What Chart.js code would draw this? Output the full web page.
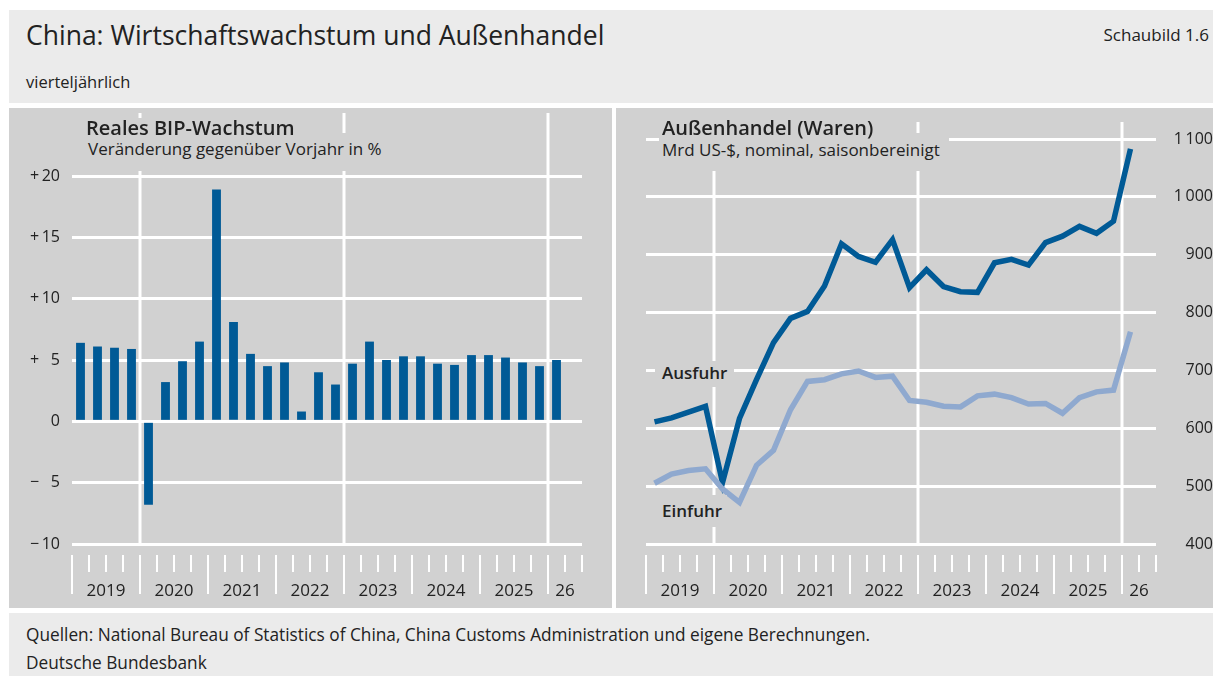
<!DOCTYPE html>
<html lang="de">
<head>
<meta charset="utf-8">
<title>China: Wirtschaftswachstum und Außenhandel</title>
<script src="https://cdn.jsdelivr.net/npm/chart.js@4.4.1/dist/chart.umd.min.js"></script>
<style>
  html, body { margin: 0; padding: 0; background: #fff; }
  body { width: 1213px; height: 676px; position: relative; overflow: hidden;
         font-family: "Open Sans", "Noto Sans", sans-serif; color: #222; }
  .box { position: absolute; }
  .head { left: 9px; top: 10px; width: 1204px; height: 93px; background: #ebebeb; }
  .foot { left: 9px; top: 613px; width: 1204px; height: 63px; background: #ebebeb; }
  .panel { position: absolute; top: 108px; height: 500px; background: #d1d1d1; }
  .txt { position: absolute; white-space: nowrap; line-height: 1; }
  .lbl { position: absolute; white-space: nowrap; line-height: 1; background: #d1d1d1; }
  canvas { position: absolute; left: 0; top: 0; }
</style>
</head>
<body>
<div class="box head"></div>
<div class="box foot"></div>

<div class="panel" id="pl" style="left:9px;width:603px;">
  <canvas id="gdp" width="603" height="500"></canvas>
</div>
<div class="panel" id="pr" style="left:616px;width:597px;">
  <canvas id="trade" width="597" height="500"></canvas>
</div>

<div class="txt" style="left:26px;top:22px;font-size:26.5px;">China: Wirtschaftswachstum und Außenhandel</div>
<div class="txt" style="right:4px;top:26px;font-size:17px;">Schaubild 1.6</div>
<div class="txt" style="left:26px;top:74px;font-size:16.5px;">vierteljährlich</div>

<div class="lbl" style="left:85px;top:133px;height:38px;font-size:17px;padding:7px 6px 0 3px;box-sizing:border-box;">Veränderung gegenüber Vorjahr in %</div>
<div class="lbl" style="left:83px;top:118px;font-size:20px;font-weight:600;padding:0 3px;">Reales BIP-Wachstum</div>

<div class="lbl" style="left:659px;top:133px;height:38px;font-size:17px;padding:8px 9px 0 3px;box-sizing:border-box;">Mrd US-$, nominal, saisonbereinigt</div>
<div class="lbl" style="left:659px;top:118px;font-size:20px;font-weight:600;padding:0 3px;">Außenhandel (Waren)</div>

<div class="lbl" style="left:655px;top:361px;height:26px;font-size:17px;font-weight:600;padding:3px 7px 0 7px;box-sizing:border-box;">Ausfuhr</div>
<div class="lbl" style="left:656px;top:495px;height:32px;font-size:17px;font-weight:600;padding:7px 5px 0 6px;box-sizing:border-box;">Einfuhr</div>

<div class="txt" style="left:26px;top:626px;font-size:17.25px;">Quellen: National Bureau of Statistics of China, China Customs Administration und eigene Berechnungen.</div>
<div class="txt" style="left:26px;top:654px;font-size:17.25px;">Deutsche Bundesbank</div>

<script>
// quarterly categories (last one stays empty)
const quarters = [
  "2019 Q1", "2019 Q2", "2019 Q3", "2019 Q4",
  "2020 Q1", "2020 Q2", "2020 Q3", "2020 Q4",
  "2021 Q1", "2021 Q2", "2021 Q3", "2021 Q4",
  "2022 Q1", "2022 Q2", "2022 Q3", "2022 Q4",
  "2023 Q1", "2023 Q2", "2023 Q3", "2023 Q4",
  "2024 Q1", "2024 Q2", "2024 Q3", "2024 Q4",
  "2025 Q1", "2025 Q2", "2025 Q3", "2025 Q4",
  "2026 Q1", "2026 Q2"
];
const yearLabels = ["2019", "2020", "2021", "2022", "2023", "2024", "2025", "26"];

// Reales BIP-Wachstum, % ggü. Vorjahr
const gdpGrowth = [6.4, 6.1, 6.0, 5.9, -6.8, 3.2, 4.9, 6.5, 18.9, 8.1, 5.5, 4.5,
                   4.8, 0.8, 4.0, 3.0, 4.7, 6.5, 5.0, 5.3, 5.3, 4.7, 4.6, 5.4,
                   5.4, 5.2, 4.8, 4.5, 5.0];
// Ausfuhr / Einfuhr, Mrd US-$
const exportsUsd = [611, 618, 628, 638, 506, 617, 684, 748, 790, 802, 846, 919,
                    897, 887, 926, 843, 874, 845, 836, 835, 886, 892, 882, 921,
                    932, 949, 937, 958, 1083];
const importsUsd = [505, 521, 527, 530, 495, 472, 536, 562, 632, 681, 684, 694,
                    699, 688, 690, 648, 645, 638, 637, 656, 659, 653, 642, 643,
                    626, 653, 663, 666, 767];

const gdpTicks = [-10, -5, 0, 5, 10, 15, 20];
const gdpTickLabels = ["\u2212\u200910", "\u2212\u2009\u20075", "0", "+\u2009\u20075", "+\u200910", "+\u200915", "+\u200920"];
const tradeTicks = [400, 500, 600, 700, 800, 900, 1000, 1100];
const tradeTickLabels = ["400", "500", "600", "700", "800", "900", "1\u2009000", "1\u2009100"];

const darkBlue = "#005a96";
const lightBlue = "#8fa9cf";
const fontFam = '"Open Sans", "Noto Sans", sans-serif';

// quarter ticks, year labels and the three long vertical grid lines
function timeAxis(gridTop) {
  return {
    id: "timeAxis",
    beforeDatasetsDraw(chart) {
      const ctx = chart.ctx, x = chart.scales.x, area = chart.chartArea;
      const w = x.getPixelForValue(1) - x.getPixelForValue(0);
      ctx.save();
      ctx.strokeStyle = "#fff";
      ctx.lineWidth = 3;
      [4, 16, 28].forEach(i => {
        const bx = Math.round(x.getPixelForValue(i) - w / 2);
        ctx.beginPath();
        ctx.moveTo(bx, area.top - gridTop);
        ctx.lineTo(bx, area.bottom);
        ctx.stroke();
      });
      ctx.restore();
    },
    afterDraw(chart) {
      const ctx = chart.ctx, x = chart.scales.x, area = chart.chartArea;
      const w = x.getPixelForValue(1) - x.getPixelForValue(0);
      ctx.save();
      ctx.strokeStyle = "#fff";
      ctx.lineWidth = 2;
      for (let i = 0; i <= quarters.length; i++) {
        const bx = Math.round(x.getPixelForValue(0) - w / 2 + i * w);
        const len = (i % 4 === 0 && i < quarters.length) ? 39 : 17;
        ctx.beginPath();
        ctx.moveTo(bx, area.bottom + 11);
        ctx.lineTo(bx, area.bottom + 11 + len);
        ctx.stroke();
      }
      ctx.fillStyle = "#222";
      ctx.font = "17px " + fontFam;
      ctx.textAlign = "center";
      ctx.textBaseline = "alphabetic";
      yearLabels.forEach((lab, k) => {
        const a = x.getPixelForValue(0) - w / 2 + k * 4 * w;
        const b = Math.min(a + 4 * w, x.getPixelForValue(0) - w / 2 + quarters.length * w);
        ctx.fillText(lab, (a + b) / 2, area.bottom + 52);
      });
      ctx.restore();
    }
  };
}

const tickFont = { family: fontFam, size: 16 };

new Chart(document.getElementById("gdp"), {
  type: "bar",
  data: {
    labels: quarters,
    datasets: [{ data: gdpGrowth, backgroundColor: darkBlue, barPercentage: 0.52, categoryPercentage: 1 }]
  },
  options: {
    responsive: false,
    animation: false,
    layout: { padding: { top: 68, right: 30, bottom: 64, left: 0 } },
    plugins: { legend: { display: false }, tooltip: { enabled: false } },
    scales: {
      x: { display: false, offset: true },
      y: {
        min: -10, max: 20,
        afterFit(s) { s.width = 63; },
        afterBuildTicks(s) { s.ticks = gdpTicks.map(v => ({ value: v })); },
        border: { display: false },
        grid: { color: "#fff", lineWidth: 3, drawTicks: false },
        ticks: {
          padding: 12, color: "#222", font: tickFont,
          callback: v => gdpTickLabels[gdpTicks.indexOf(v)]
        }
      }
    }
  },
  plugins: [timeAxis(63)]
});

new Chart(document.getElementById("trade"), {
  type: "line",
  data: {
    labels: quarters,
    datasets: [
      { data: importsUsd, borderColor: lightBlue, borderWidth: 5.5, pointRadius: 0, tension: 0, borderJoinStyle: "miter" },
      { data: exportsUsd, borderColor: darkBlue, borderWidth: 5.5, pointRadius: 0, tension: 0, borderJoinStyle: "miter" }
    ]
  },
  options: {
    responsive: false,
    animation: false,
    layout: { padding: { top: 31, right: 0, bottom: 64, left: 30 } },
    plugins: { legend: { display: false }, tooltip: { enabled: false } },
    scales: {
      x: { display: false, offset: true },
      y: {
        position: "right",
        min: 400, max: 1100,
        afterFit(s) { s.width = 57; },
        afterBuildTicks(s) { s.ticks = tradeTicks.map(v => ({ value: v })); },
        border: { display: false },
        grid: { color: "#fff", lineWidth: 3, drawTicks: false },
        ticks: {
          crossAlign: "far", padding: 10, color: "#222", font: tickFont,
          callback: v => tradeTickLabels[tradeTicks.indexOf(v)]
        }
      }
    }
  },
  plugins: [timeAxis(17)]
});
</script>
</body>
</html>
